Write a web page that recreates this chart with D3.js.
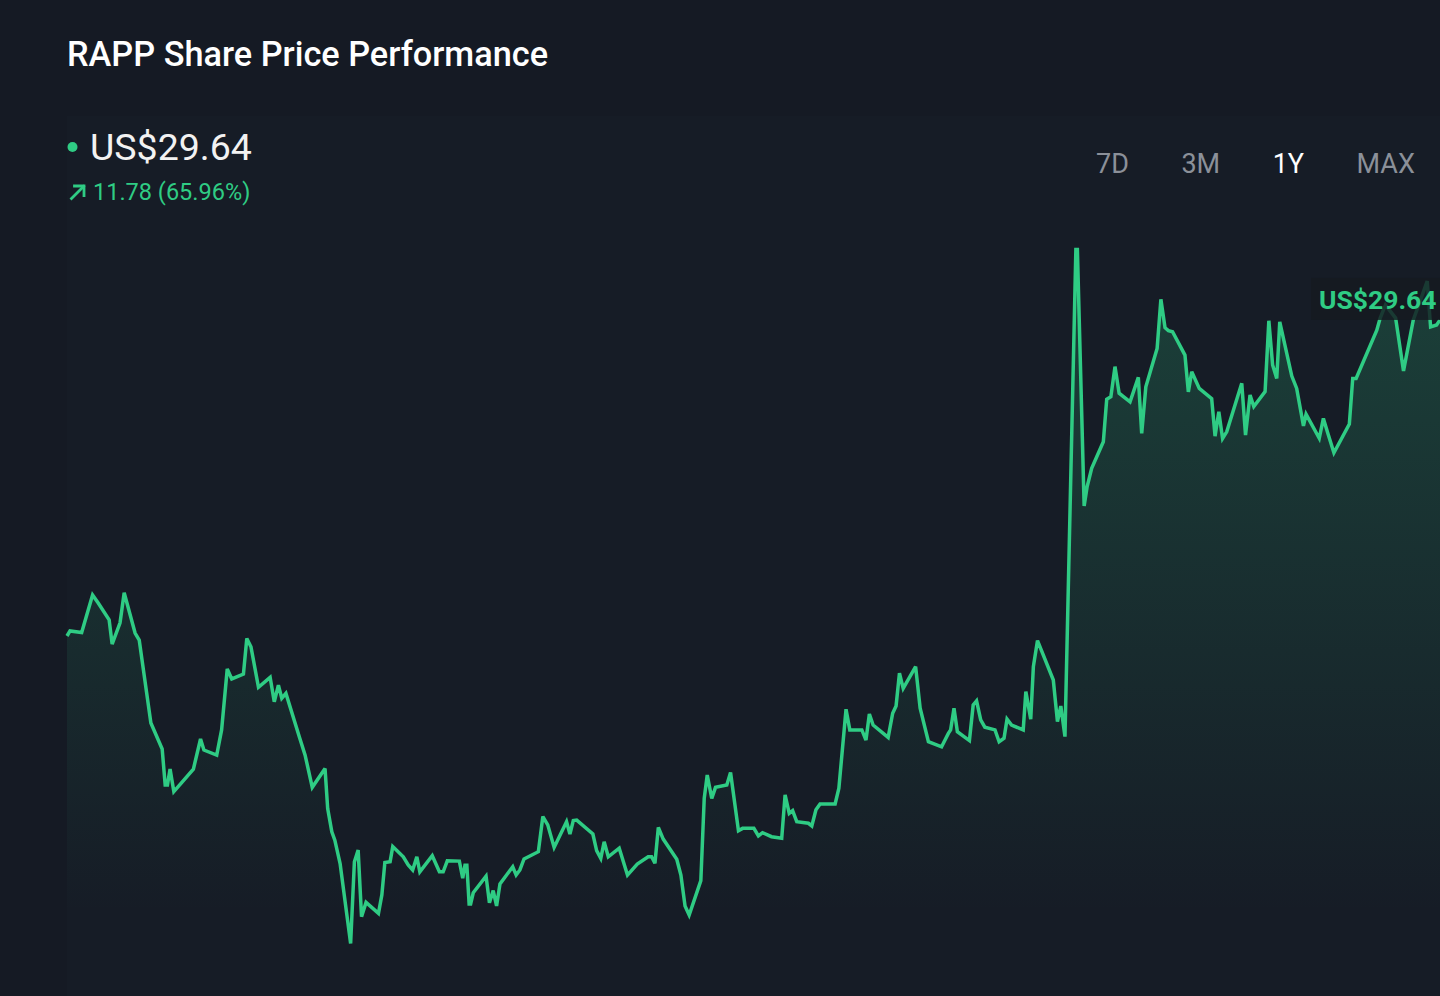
<!DOCTYPE html>
<html>
<head>
<meta charset="utf-8">
<script src="https://cdn.jsdelivr.net/npm/d3@7"></script>
<style>
  html, body { margin: 0; padding: 0; background: #151a24; }
  svg { display: block; }
  text { font-family: Roboto, "Noto Sans", sans-serif; }
</style>
</head>
<body>
<svg id="chart" width="1440" height="996"></svg>
<script>
// ---- data ----
const title = "RAPP Share Price Performance";
const currentPriceLabel = "US$29.64";
const changeLabel = "11.78 (65.96%)";
const ranges = ["7D", "3M", "1Y", "MAX"];
const activeRange = "1Y";

const days = [
  0, 0.8, 3.9, 6.8, 8.3, 11.2, 12.0, 14.1, 15.2, 18.1, 19.2, 22.3, 25.3, 26.1, 26.7, 27.4, 28.4, 33.6, 35.5, 36.4,
  39.8, 41.1, 42.6, 43.8, 46.9, 47.8, 48.9, 50.9, 54.0, 55.1, 56.2, 57.1, 58.2, 61.9, 63.3, 65.2, 68.6, 69.3, 70.4, 71.2,
  72.6, 75.4, 76.4, 77.4, 78.3, 79.5, 82.8, 83.7, 84.5, 85.9, 86.6, 89.4, 90.7, 91.9, 93.0, 93.8, 97.1, 99.0, 100.0, 101.1,
  104.3, 105.2, 105.8, 106.3, 106.9, 107.3, 108.0, 111.4, 112.3, 113.3, 114.2, 115.1, 118.5, 119.4, 120.4, 121.5, 125.3, 126.5, 127.8, 129.5,
  132.8, 133.7, 134.6, 135.5, 139.8, 140.8, 141.9, 142.8, 143.9, 146.8, 149.0, 151.6, 154.5, 155.4, 156.3, 157.2, 158.5, 162.1, 163.2, 164.3,
  165.4, 168.5, 169.4, 170.2, 171.4, 172.4, 175.4, 176.4, 178.5, 179.6, 182.6, 183.8, 184.9, 187.3, 190.0, 190.9, 192.0, 192.9, 194.0, 197.1,
  198.0, 199.1, 200.2, 204.2, 205.2, 207.1, 208.1, 211.3, 212.4, 213.3, 214.3, 218.3, 219.5, 220.4, 221.3, 222.3, 225.6, 226.8, 229.0, 232.5,
  234.3, 234.9, 235.8, 236.7, 239.9, 240.9, 241.8, 242.9, 244.0, 246.7, 247.8, 249.1, 249.9, 251.1, 254.2, 254.9, 256.2, 256.9, 258.0, 262.2,
  263.3, 264.2, 265.3, 268.2, 268.6, 270.4, 271.2, 272.4, 275.5, 276.4, 277.5, 278.6, 279.7, 282.6, 284.8, 285.7, 286.8, 289.8, 290.8, 291.9,
  292.8, 293.9, 297.2, 298.1, 299.0, 301.0, 304.3, 305.2, 306.2, 307.2, 308.3, 312.3, 313.3, 314.5, 315.5, 318.5, 319.5, 320.5, 321.6, 322.4,
  325.6, 326.9, 328.7, 329.4, 332.9, 334.0, 335.2, 336.8, 340.9, 341.8, 342.7, 348.2, 349.1, 350.5, 353.2, 355.3, 357.9, 359.8, 361.6, 362.5,
  364.1, 365
];
const prices = [
  17.86, 18.05, 17.99, 19.39, 19.09, 18.46, 17.56, 18.35, 19.47, 17.97, 17.71, 14.62, 13.65, 12.31, 12.31, 12.90, 12.06, 12.90, 14.02, 13.61,
  13.42, 14.36, 16.63, 16.26, 16.44, 17.77, 17.46, 15.95, 16.32, 15.41, 16.03, 15.54, 15.72, 14.04, 13.42, 12.22, 12.92, 11.43, 10.56, 10.25,
  9.38, 6.40, 9.44, 9.88, 7.40, 7.93, 7.52, 8.21, 9.42, 9.45, 10.01, 9.63, 9.33, 9.14, 9.63, 9.07, 9.67, 9.07, 9.07, 9.48,
  9.47, 8.83, 9.32, 9.32, 7.87, 7.87, 8.29, 8.91, 7.92, 8.37, 7.80, 8.62, 9.26, 8.95, 9.14, 9.55, 9.82, 11.13, 10.82, 9.98,
  10.94, 10.48, 10.98, 11.00, 10.48, 9.86, 9.57, 10.19, 9.63, 9.95, 8.95, 9.36, 9.63, 9.63, 9.39, 10.73, 10.29, 9.54, 8.95, 7.80,
  7.46, 8.74, 11.81, 12.68, 11.81, 12.22, 12.31, 12.77, 10.60, 10.69, 10.69, 10.41, 10.53, 10.38, 10.32, 11.94, 11.25, 11.35, 10.94, 10.88,
  10.78, 11.38, 11.60, 11.60, 12.19, 15.13, 14.36, 14.36, 13.98, 14.95, 14.54, 14.08, 14.98, 15.25, 16.47, 15.91, 16.72, 15.17, 13.92, 13.73,
  14.23, 14.36, 15.17, 14.29, 13.96, 15.29, 15.44, 14.73, 14.46, 14.36, 13.92, 14.05, 14.76, 14.54, 14.36, 15.79, 14.76, 16.72, 17.69, 16.22,
  14.67, 15.25, 14.11, 32.27, 32.27, 22.71, 23.43, 24.11, 25.10, 26.68, 26.78, 27.90, 26.91, 26.59, 27.50, 25.41, 27.15, 28.58, 30.41, 29.35,
  29.24, 29.20, 28.33, 26.96, 27.71, 27.09, 26.71, 25.31, 26.22, 25.22, 25.47, 27.28, 25.35, 26.84, 26.41, 26.97, 29.61, 27.96, 27.46, 29.57,
  27.55, 27.09, 25.69, 26.13, 25.23, 25.97, 25.41, 24.69, 25.76, 27.46, 27.46, 29.26, 29.71, 30.20, 29.71, 27.74, 29.64, 30.38, 31.09, 29.38,
  29.45, 29.64
];

const data = days.map((d, i) => ({ d, v: prices[i] }));

// ---- drawing ----
const GREEN = "#2fcc84";
const svg = d3.select("#chart");

const x = d3.scaleLinear().domain([0, 365]).range([67, 1440]);
const y = d3.scaleLinear().domain([6, 33]).range([954.2, 229.8]);

// subtle chart panel
svg.append("rect").attr("x", 67).attr("y", 116).attr("width", 1373).attr("height", 880)
  .attr("fill", "#161c26");

// header
svg.append("text").attr("x", 67).attr("y", 66).attr("fill", "#ffffff")
  .attr("font-size", 34.3).attr("font-weight", 500).text(title);

svg.append("circle").attr("cx", 72.5).attr("cy", 147).attr("r", 5).attr("fill", GREEN);
svg.append("text").attr("x", 90).attr("y", 160).attr("fill", "#f2f2f2")
  .attr("font-size", 37.5).attr("font-weight", 400).text(currentPriceLabel);

// up arrow icon
const arrow = svg.append("g").attr("stroke", GREEN).attr("stroke-width", 2.8)
  .attr("fill", "none").attr("stroke-linecap", "square");
arrow.append("path").attr("d", "M71.5,198.5 L83.5,186.5");
arrow.append("path").attr("d", "M74.5,186 L84,186 L84,195.5");

svg.append("text").attr("x", 93).attr("y", 200).attr("fill", GREEN)
  .attr("font-size", 23.5).text(changeLabel);

// range buttons, laid out left to right with equal gaps
const rangeG = svg.append("g");
let rx = 1096;
ranges.forEach(r => {
  const t = rangeG.append("text").attr("x", rx).attr("y", 173)
    .attr("font-size", 27)
    .attr("fill", r === activeRange ? "#ffffff" : "#8b9099")
    .text(r);
  rx += t.node().getComputedTextLength() + 52.5;
});

// gradient for area
const defs = svg.append("defs");
const grad = defs.append("linearGradient").attr("id", "areaGrad")
  .attr("gradientUnits", "userSpaceOnUse")
  .attr("x1", 0).attr("x2", 0).attr("y1", y(33)).attr("y2", y(7.5));
grad.append("stop").attr("offset", 0).attr("stop-color", GREEN).attr("stop-opacity", 0.22);
grad.append("stop").attr("offset", 0.55).attr("stop-color", GREEN).attr("stop-opacity", 0.1);
grad.append("stop").attr("offset", 1).attr("stop-color", GREEN).attr("stop-opacity", 0);

const area = d3.area().x(d => x(d.d)).y0(y(6)).y1(d => y(d.v));
const line = d3.line().x(d => x(d.d)).y(d => y(d.v));

svg.append("path").datum(data).attr("d", area).attr("fill", "url(#areaGrad)");
svg.append("path").datum(data).attr("d", line)
  .attr("fill", "none").attr("stroke", GREEN).attr("stroke-width", 3.5)
  .attr("stroke-linejoin", "miter").attr("stroke-miterlimit", 3);

// end price label
const last = data[data.length - 1];
const ly = y(last.v);
svg.append("rect").attr("x", 1311).attr("y", ly - 42).attr("width", 140).attr("height", 42)
  .attr("fill", "#151a21").attr("fill-opacity", 0.82);
svg.append("text").attr("x", 1319).attr("y", ly - 11).attr("fill", GREEN)
  .attr("font-size", 26.5).attr("font-weight", 700).text(currentPriceLabel);
</script>
</body>
</html>
